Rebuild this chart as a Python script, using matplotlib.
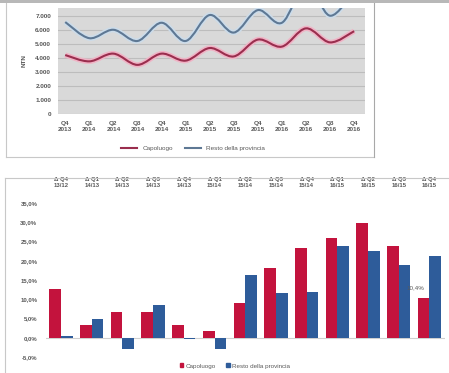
import numpy as np
import matplotlib.pyplot as plt
from matplotlib.path import Path
from matplotlib.patches import PathPatch, Rectangle
from matplotlib.lines import Line2D

plt.rcParams['font.family'] = ['Liberation Sans', 'DejaVu Sans']

# --- data: quarterly NTN (top chart)
quarters = ['Q4\n2013', 'Q1\n2014', 'Q2\n2014', 'Q3\n2014', 'Q4\n2014', 'Q1\n2015',
            'Q2\n2015', 'Q3\n2015', 'Q4\n2015', 'Q1\n2016', 'Q2\n2016', 'Q3\n2016',
            'Q4\n2016']
ntn_capoluogo = [4200, 3750, 4300, 3500, 4300, 3800, 4700, 4100, 5300, 4800, 6100, 5100, 5900]
ntn_resto = [6550, 5400, 6000, 5200, 6500, 5200, 7050, 5800, 7400, 6500, 9200, 7000, 8800]

# --- data: yearly change by quarter (bottom chart)
delta_labels = ['Δ Q4\n13/12', 'Δ Q1\n14/13', 'Δ Q2\n14/13', 'Δ Q3\n14/13', 'Δ Q4\n14/13',
                'Δ Q1\n15/14', 'Δ Q2\n15/14', 'Δ Q3\n15/14', 'Δ Q4\n15/14', 'Δ Q1\n16/15',
                'Δ Q2\n16/15', 'Δ Q3\n16/15', 'Δ Q4\n16/15']
var_capoluogo = [12.7, 3.2, 6.7, 6.6, 3.2, 1.8, 9.0, 18.1, 23.4, 25.9, 29.7, 23.8, 10.4]
var_resto = [0.5, 4.9, -3.0, 8.5, -0.2, -2.9, 16.2, 11.5, 12.0, 23.9, 22.6, 19.0, 21.3]

W, H = 449, 373
red_line, red_glow = '#9A2E4E', '#F0B4C6'
blue_line, blue_glow = '#5E7894', '#CCDCEA'
red_bar, blue_bar = '#C3133D', '#2E5C9A'
txt = '#595959'


def smooth_path(x, y):
    # Excel-like smoothed line: Catmull-Rom segments as cubic Bezier
    x = np.asarray(x, float)
    y = np.asarray(y, float)
    px = np.concatenate([[x[0]], x, [x[-1]]])
    py = np.concatenate([[y[0]], y, [y[-1]]])
    verts = [(x[0], y[0])]
    codes = [Path.MOVETO]
    t = 1 / 6
    for i in range(1, len(x)):
        p0 = (px[i - 1], py[i - 1]); p1 = (px[i], py[i])
        p2 = (px[i + 1], py[i + 1]); p3 = (px[i + 2], py[i + 2])
        c1 = (p1[0] + (p2[0] - p0[0]) * t, p1[1] + (p2[1] - p0[1]) * t)
        c2 = (p2[0] - (p3[0] - p1[0]) * t, p2[1] - (p3[1] - p1[1]) * t)
        verts += [c1, c2, p2]
        codes += [Path.CURVE4] * 3
    return Path(verts, codes)


fig = plt.figure(figsize=(W / 100, H / 100), dpi=100)
fig.patch.set_facecolor('white')

# frames of the screenshot
fig.add_artist(Rectangle((0, 1 - 3 / H), 1, 3 / H, transform=fig.transFigure,
                         facecolor='#B8B8B8', edgecolor='none'))
fig.add_artist(Line2D([6 / W, 6 / W], [1 - 3 / H, 1 - 157 / H], transform=fig.transFigure,
                      color='#C8C8C8', lw=0.8))
fig.add_artist(Line2D([6 / W, 374 / W], [1 - 157 / H, 1 - 157 / H], transform=fig.transFigure,
                      color='#C8C8C8', lw=0.8))
fig.add_artist(Line2D([374 / W, 374 / W], [1 - 3 / H, 1 - 157 / H], transform=fig.transFigure,
                      color='#A8A8A8', lw=0.8))
fig.add_artist(Line2D([5 / W, 1], [1 - 178 / H, 1 - 178 / H], transform=fig.transFigure,
                      color='#C8C8C8', lw=0.8))
fig.add_artist(Line2D([5 / W, 5 / W], [1 - 178 / H, 0], transform=fig.transFigure,
                      color='#C8C8C8', lw=0.8))

# --- top chart
ax1 = fig.add_axes([58 / W, 1 - 114 / H, 307 / W, 106 / H])
ax1.set_facecolor('#D9D9D9')
xq = np.arange(len(quarters))
for vals, lc, gc in [(ntn_capoluogo, red_line, red_glow), (ntn_resto, blue_line, blue_glow)]:
    p = smooth_path(xq, vals)
    ax1.add_patch(PathPatch(p, facecolor='none', edgecolor=gc, lw=3.8, zorder=3))
    ax1.add_patch(PathPatch(p, facecolor='none', edgecolor=lc, lw=1.5, zorder=4))
ax1.set_xlim(-0.3, 12.45)
ax1.set_ylim(0, 7550)
ax1.set_yticks(range(0, 8000, 1000))
ax1.set_yticklabels(['0'] + ['%d.000' % k for k in range(1, 8)])
ax1.set_xticks(xq)
ax1.set_xticklabels(quarters)
ax1.grid(axis='y', color='#BDBDBD', lw=0.8)
ax1.set_axisbelow(True)
for s in ax1.spines.values():
    s.set_visible(False)
ax1.tick_params(length=0, labelsize=4.6, labelcolor=txt, pad=5)
for lab in ax1.get_xticklabels() + ax1.get_yticklabels():
    lab.set_fontweight('bold')
ax1.set_ylabel('NTN', fontsize=4.6, color=txt, fontweight='bold', labelpad=6)
fig.legend(handles=[Line2D([], [], color=red_line, lw=1.5, label='Capoluogo'),
                    Line2D([], [], color=blue_line, lw=1.5, label='Resto della provincia')],
           loc='center', bbox_to_anchor=(193 / W, 1 - 148 / H), ncol=2, frameon=False,
           fontsize=4.6, handlelength=2.6, columnspacing=1.8, labelcolor=txt)

# --- bottom chart
ax2 = fig.add_axes([45.7 / W, 1 - 357 / H, 399 / W, 154 / H])
xd = np.arange(len(delta_labels))
bw = 0.38
ax2.bar(xd - bw / 2, var_capoluogo, bw, color=red_bar, label='Capoluogo', zorder=3)
ax2.bar(xd + bw / 2, var_resto, bw, color=blue_bar, label='Resto della provincia', zorder=3)
ax2.axhline(0, color='#D0D0D0', lw=0.8, zorder=2)
ax2.set_xlim(-0.5, 12.5)
ax2.set_ylim(-5, 35)
ax2.set_yticks(range(-5, 40, 5))
ax2.set_yticklabels(['%d,0%%' % v for v in range(-5, 40, 5)])
ax2.xaxis.tick_top()
ax2.set_xticks(xd)
ax2.set_xticklabels(delta_labels)
for s in ax2.spines.values():
    s.set_visible(False)
ax2.tick_params(length=0, labelsize=4.3, labelcolor=txt)
ax2.tick_params(axis='x', pad=11)
ax2.tick_params(axis='y', pad=6)
for lab in ax2.get_xticklabels() + ax2.get_yticklabels():
    lab.set_fontweight('bold')
ax2.text(xd[-1] - bw / 2 - 0.28, var_capoluogo[-1] + 2.0, '10,4%', ha='center', va='bottom',
         fontsize=4.5, color=txt)
fig.legend(handles=[Rectangle((0, 0), 1, 1, color=red_bar, label='Capoluogo'),
                    Rectangle((0, 0), 1, 1, color=blue_bar, label='Resto della provincia')],
           loc='center', bbox_to_anchor=(235 / W, 1 - 366 / H), ncol=2, frameon=False,
           fontsize=4.5, handlelength=0.6, handleheight=0.6, handletextpad=0.4,
           columnspacing=1.6, labelcolor=txt)

fig.savefig('out.png', dpi=100)
